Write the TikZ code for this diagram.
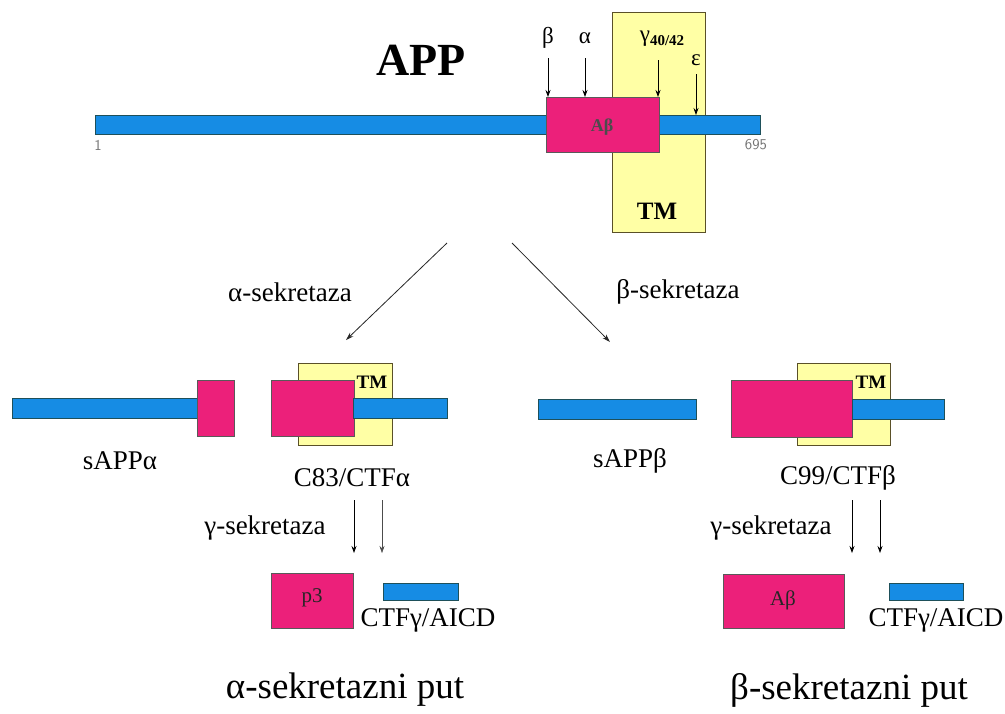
\documentclass[tikz,border=0pt]{standalone}
\usepackage{fontspec}
\setmainfont{Liberation Serif}
\usetikzlibrary{arrows.meta}
\definecolor{barblue}{RGB}{22,140,228}
\definecolor{barline}{RGB}{30,80,90}
\definecolor{abpink}{RGB}{236,32,122}
\definecolor{tmyellow}{RGB}{255,255,165}
\definecolor{tmline}{RGB}{90,80,40}
\newcommand{\fs}[1]{\fontsize{#1}{#1}\selectfont}
\begin{document}
\begin{tikzpicture}[x=1pt,y=-1pt,
  bar/.style={draw=barline, line width=0.6pt, fill=barblue, inner sep=0, outer sep=0, anchor=north west},
  pinkbox/.style={draw=black!65, line width=0.6pt, fill=abpink, inner sep=0, outer sep=0, anchor=north west},
  tmbox/.style={draw=tmline, line width=0.8pt, fill=tmyellow, inner sep=0, outer sep=0, anchor=north west},
  lbl/.style={font=\fs{27}, inner sep=0},
  greek/.style={font=\fs{23}, inner sep=0},
  inlbl/.style={font=\bfseries\fs{18}, text=black!70, inner sep=0},
  cut/.style={-{Stealth[length=7pt,width=5pt]}, line width=0.8pt},
  thincut/.style={-{Stealth[length=7pt,width=5pt]}, line width=0.5pt, black!70},
  branch/.style={-{Stealth[length=8pt,width=5pt]}, line width=0.8pt, black!85},
  title/.style={font=\fs{37}, inner sep=0},
  num/.style={font=\sffamily\fs{15}, text=black!55, inner sep=0}
]
\useasboundingbox (0,0) rectangle (1005,713);
\fill[white] (0,0) rectangle (1005,713);

% ---------- top: APP ----------
\node[tmbox, minimum width=93pt, minimum height=220pt] (tm) at (612,12) {};
\node[bar, minimum width=665pt, minimum height=19pt] (app) at (95,115) {};
\node[pinkbox, minimum width=113pt, minimum height=55pt] (ab) at (546,97) {};
\node[inlbl] (ablbl) at (602,127) {Aβ};
\node[font=\bfseries\fs{25}, inner sep=0] (tmlbl) at (657,211) {TM};
\node[font=\bfseries\fs{46}, inner sep=0] (apptitle) at (421,60) {APP};
\node[num] (n1) at (98,145) {1};
\node[num] (n695) at (756,145) {695};

\node[greek] (lb) at (548,38) {β};
\node[greek] (la) at (585,38) {α};
\node[greek] (lg) at (662,39) {γ\raisebox{-0.35ex}{\bfseries\fs{15}40/42}};
\node[greek] (le) at (696,60) {ε};

\coordinate (cb) at (548,97);
\coordinate (ca) at (585,97);
\coordinate (cg) at (658,97);
\coordinate (ce) at (696,115);
\coordinate (sb) at (548,58);
\coordinate (sa) at (585,58);
\coordinate (sg) at (658,60);
\coordinate (se) at (696,74);
\draw[cut] (sb) -- (cb);
\draw[cut] (sa) -- (ca);
\draw[cut] (sg) -- (cg);
\draw[cut] (se) -- (ce);

% ---------- branches ----------
\coordinate (bl0) at (447,243);
\coordinate (bl1) at (346,340);
\coordinate (br0) at (512,243);
\coordinate (br1) at (610,342);
\draw[branch] (bl0) -- (bl1);
\draw[branch] (br0) -- (br1);
\node[lbl] (asek) at (290,292) {α-sekretaza};
\node[lbl] (bsek) at (678,292) {β-sekretaza};

% ---------- middle left ----------
\node[bar, minimum width=185pt, minimum height=20pt] (sappa) at (12,398) {};
\node[pinkbox, minimum width=37pt, minimum height=56pt] (pa1) at (197,380) {};
\node[tmbox, minimum width=94pt, minimum height=82pt] (tma) at (298,363) {};
\node[pinkbox, minimum width=83pt, minimum height=56pt] (pa2) at (271,380) {};
\node[bar, minimum width=94pt, minimum height=20pt] (ba2) at (353,398) {};
\node[font=\bfseries\fs{19}, inner sep=0] (tmal) at (372,382) {TM};
\node[lbl] (lsappa) at (120,461) {sAPPα};
\node[lbl] (lc83) at (352,478) {C83/CTFα};

% ---------- middle right ----------
\node[bar, minimum width=158pt, minimum height=20pt] (sappb) at (538,399) {};
\node[tmbox, minimum width=93pt, minimum height=82pt] (tmb) at (797,363) {};
\node[pinkbox, minimum width=121pt, minimum height=57pt] (pb) at (731,380) {};
\node[bar, minimum width=92pt, minimum height=20pt] (bb2) at (852,399) {};
\node[font=\bfseries\fs{19}, inner sep=0] (tmbl) at (871,382) {TM};
\node[lbl] (lsappb) at (630,461) {sAPPβ};
\node[lbl] (lc99) at (838,478) {C99/CTFβ};

% ---------- lower left ----------
\node[lbl] (gsa) at (265,528) {γ-sekretaza};
\coordinate (ga1s) at (354,500);
\coordinate (ga1e) at (354,553);
\coordinate (ga2s) at (382,500);
\coordinate (ga2e) at (382,553);
\draw[cut] (ga1s) -- (ga1e);
\draw[thincut] (ga2s) -- (ga2e);
\node[pinkbox, minimum width=82pt, minimum height=55pt] (p3) at (271,573) {};
\node[inlbl, font=\fs{21}, text=black!85] (p3l) at (312,598) {p3};
\node[bar, minimum width=75pt, minimum height=17pt] (aicda) at (383,583) {};
\node[lbl] (laicda) at (428,620) {CTFγ/AICD};

% ---------- lower right ----------
\node[lbl] (gsb) at (771,528) {γ-sekretaza};
\coordinate (gb1s) at (852,500);
\coordinate (gb1e) at (852,553);
\coordinate (gb2s) at (880,500);
\coordinate (gb2e) at (880,553);
\draw[cut] (gb1s) -- (gb1e);
\draw[cut] (gb2s) -- (gb2e);
\node[pinkbox, minimum width=121pt, minimum height=54pt] (abb) at (723,574) {};
\node[inlbl, font=\fs{21}, text=black!85] (abbl) at (783,600) {Aβ};
\node[bar, minimum width=74pt, minimum height=17pt] (aicdb) at (889,583) {};
\node[lbl] (laicdb) at (936,620) {CTFγ/AICD};

% ---------- titles ----------
\node[title] (ta) at (345,690) {α-sekretazni put};
\node[title] (tb) at (849,690) {β-sekretazni put};
\end{tikzpicture}
\end{document}
